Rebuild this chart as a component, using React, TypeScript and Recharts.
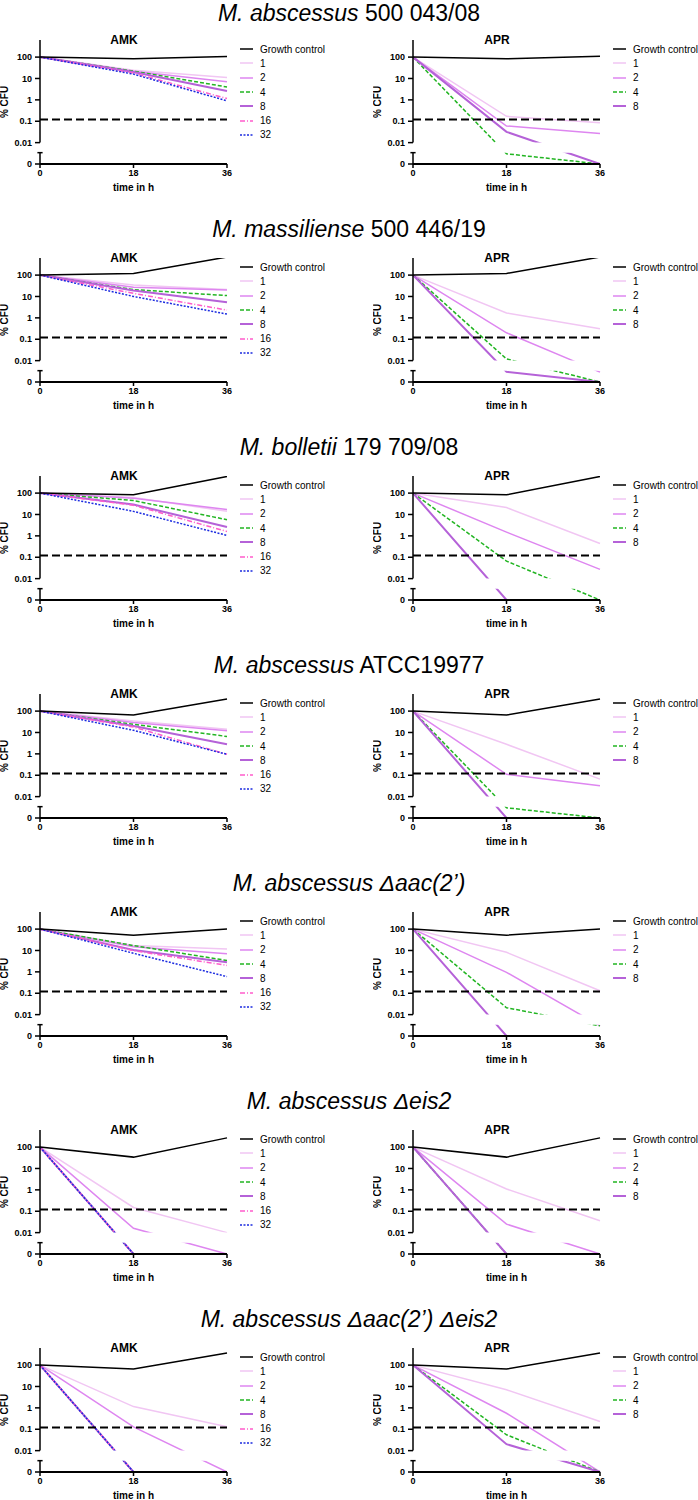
import React from 'react'
import {
  LineChart,
  Line,
  XAxis,
  YAxis,
  ReferenceLine,
  ReferenceArea,
  Legend,
  Customized,
} from 'recharts'

const times = [0, 18, 36]
const amkLabels = ['Growth control', '1', '2', '4', '8', '16', '32']
const aprLabels = ['Growth control', '1', '2', '4', '8']
const yTicks = [-3, -2, -1, 0, 1, 2]
const yTickLabels = ['0', '0.01', '0.1', '1', '10', '100']
const detectionLimit = 0.12

// % CFU at 0, 18 and 36 h, one array per concentration (0 = nothing recovered)
const abs500AMK = [[100, 83, 107], [100, 24, 11], [100, 22, 7], [100, 22, 4], [100, 20, 2.6], [100, 18, 1.15], [100, 16, 0.9]]
const abs500APR = [[100, 83, 110], [100, 0.17, 0.085], [100, 0.06, 0.027], [100, 0.003, 0], [100, 0.032, 0]]

const massAMK = [[100, 120, 700], [100, 34, 21], [100, 27, 20], [100, 21, 11], [100, 19, 5.4], [100, 14, 2.3], [100, 10, 1.5]]
const massAPR = [[100, 120, 700], [100, 1.7, 0.31], [100, 0.2, 0.0029], [100, 0.012, 0], [100, 0.003, 0]]

const bollAMK = [[100, 83, 600], [100, 63, 14], [100, 58, 17], [100, 45, 5.7], [100, 29, 2.6], [100, 27, 1.6], [100, 14, 1.05]]
const bollAPR = [[100, 83, 600], [100, 21, 0.44], [100, 1.5, 0.027], [100, 0.066, 0], [100, 0, 0]]

const atccAMK = [[100, 65, 370], [100, 34, 14], [100, 29, 12], [100, 24, 6.5], [100, 20, 2.8], [100, 18, 0.95], [100, 12.6, 0.95]]
const atccAPR = [[100, 65, 370], [100, 2.8, 0.066], [100, 0.11, 0.032], [100, 0.003, 0], [100, 0, 0]]

const aacAMK = [[100, 52, 100], [100, 17, 11.8], [100, 15, 7], [100, 17, 3.4], [100, 10.5, 2.8], [100, 9.8, 2], [100, 7.4, 0.6]]
const aacAPR = [[100, 52, 100], [100, 8.2, 0.13], [100, 0.95, 0.003], [100, 0.021, 0.003], [100, 0, 0]]

const eisAMK = [[100, 34, 270], [100, 0.15, 0.01], [100, 0.016, 0], [100, 0, 0], [100, 0, 0], [100, 0, 0], [100, 0, 0]]
const eisAPR = [[100, 34, 270], [100, 1.1, 0.036], [100, 0.025, 0], [100, 0, 0], [100, 0, 0]]

const aacEisAMK = [[100, 65, 370], [100, 1.15, 0.13], [100, 0.13, 0], [100, 0, 0], [100, 0, 0], [100, 0, 0], [100, 0, 0]]
const aacEisAPR = [[100, 65, 370], [100, 7, 0.23], [100, 0.56, 0], [100, 0.055, 0], [100, 0.02, 0]]

const strains = [
  { italic: 'M. abscessus', plain: ' 500 043/08', amk: abs500AMK, apr: abs500APR },
  { italic: 'M. massiliense', plain: ' 500 446/19', amk: massAMK, apr: massAPR },
  { italic: 'M. bolletii', plain: ' 179 709/08', amk: bollAMK, apr: bollAPR },
  { italic: 'M. abscessus', plain: ' ATCC19977', amk: atccAMK, apr: atccAPR },
  { italic: 'M. abscessus \u0394aac(2\u2019)', plain: '', amk: aacAMK, apr: aacAPR },
  { italic: 'M. abscessus \u0394eis2', plain: '', amk: eisAMK, apr: eisAPR },
  { italic: 'M. abscessus \u0394aac(2\u2019) \u0394eis2', plain: '', amk: aacEisAMK, apr: aacEisAPR },
]

const seriesStyle = [
  { stroke: '#000000', width: 1.5, dash: undefined as string | undefined },
  { stroke: '#F1C6F3', width: 1.5, dash: undefined },
  { stroke: '#DE86F0', width: 1.5, dash: undefined },
  { stroke: '#22B522', width: 1.5, dash: '4 2' },
  { stroke: '#B562D8', width: 2, dash: undefined },
  { stroke: '#FF5CCB', width: 1.5, dash: '5 2 1 2' },
  { stroke: '#1B2BE0', width: 1.5, dash: '2 1.5' },
]

// log scale with the "0" segment one decade below 0.01
const toY = (v: number) => Math.log10(Math.max(v, 0.001))
const GAP_TOP = -2
const GAP_BOTTOM = -2.47

function LegendBox({ labels }: { labels: string[] }) {
  return (
    <div style={{ width: 110 }}>
      {labels.map((l, k) => (
        <div
          key={l}
          style={{ height: 14.3, display: 'flex', alignItems: 'center', fontSize: 10, color: '#000', whiteSpace: 'nowrap' }}
        >
          <svg width={20} height={6} style={{ flex: 'none' }}>
            <line
              x1={0}
              x2={13}
              y1={3}
              y2={3}
              stroke={seriesStyle[k].stroke}
              strokeWidth={seriesStyle[k].width}
              strokeDasharray={seriesStyle[k].dash}
            />
          </svg>
          <span>{l}</span>
        </div>
      ))}
    </div>
  )
}

function Panel({ title, values, labels }: { title: string; values: number[][]; labels: string[] }) {
  const data = times.map((t, i) => {
    const row: Record<string, number> = { t }
    values.forEach((s, k) => {
      row['s' + k] = toY(s[i])
    })
    return row
  })
  const order = labels.map((_, k) => k).slice(1).concat([0])

  return (
    <LineChart width={348} height={200} data={data} margin={{ top: 40, right: 11, bottom: 0, left: 0 }}>
      <XAxis
        dataKey="t"
        type="number"
        domain={[0, 36]}
        ticks={times}
        height={36}
        axisLine={{ stroke: '#000', strokeWidth: 2 }}
        tickLine={{ stroke: '#000', strokeWidth: 1.5 }}
        tickSize={4}
        tickMargin={2}
        tick={{ fill: '#000', fontSize: 9, fontWeight: 'bold' }}
        label={{ value: 'time in h', position: 'insideBottom', offset: 9, fill: '#000', fontSize: 10, fontWeight: 'bold' }}
      />
      <YAxis
        type="number"
        domain={[-3, 2.8]}
        allowDataOverflow
        ticks={yTicks}
        interval={0}
        tickFormatter={(v: number) => yTickLabels[yTicks.indexOf(v)] ?? ''}
        width={40}
        axisLine={false}
        tickLine={{ stroke: '#000', strokeWidth: 1.5 }}
        tickSize={5}
        tickMargin={3}
        tick={{ fill: '#000', fontSize: 9, fontWeight: 'bold' }}
      />
      {order.map((k) => (
        <Line
          key={k}
          dataKey={'s' + k}
          name={labels[k]}
          type="linear"
          stroke={seriesStyle[k].stroke}
          strokeWidth={seriesStyle[k].width}
          strokeDasharray={seriesStyle[k].dash}
          dot={false}
          activeDot={false}
          isAnimationActive={false}
        />
      ))}
      <ReferenceArea
        x1={0}
        x2={36}
        y1={GAP_BOTTOM}
        y2={GAP_TOP}
        fill="#fff"
        fillOpacity={1}
        stroke="none"
        zIndex={450}
      />
      <ReferenceLine y={toY(detectionLimit)} stroke="#000" strokeWidth={2} strokeDasharray="8 4" zIndex={460} />
      <ReferenceLine segment={[{ x: 0, y: GAP_TOP }, { x: 0, y: 2.8 }]} stroke="#000" strokeWidth={1.5} zIndex={470} />
      <ReferenceLine segment={[{ x: 0, y: -3 }, { x: 0, y: GAP_BOTTOM }]} stroke="#000" strokeWidth={1.5} zIndex={470} />
      <ReferenceLine
        segment={[{ x: -0.5, y: GAP_BOTTOM }, { x: 0.5, y: GAP_BOTTOM }]}
        ifOverflow="visible"
        stroke="#000"
        strokeWidth={1.5}
        zIndex={470}
      />
      <ReferenceLine y={-3} stroke="#000" strokeWidth={2} zIndex={470} />
      <Legend
        layout="vertical"
        align="right"
        verticalAlign="top"
        wrapperStyle={{ left: 240, top: 42, right: 'auto', width: 110 }}
        content={() => <LegendBox labels={labels} />}
      />
      <Customized
        component={() => (
          <g>
            <text x={124} y={44} textAnchor="middle" fontSize={12} fontWeight="bold" fill="#000">
              {title}
            </text>
            <text transform="rotate(-90)" x={-102} y={8} textAnchor="middle" fontSize={10} fontWeight="bold" fill="#000">
              % CFU
            </text>
          </g>
        )}
      />
    </LineChart>
  )
}

export default function App() {
  return (
    <div
      style={{
        position: 'absolute',
        left: 0,
        top: 0,
        width: 698,
        height: 1500,
        overflow: 'hidden',
        background: '#fff',
        fontFamily: '"Liberation Sans", Arial, sans-serif',
      }}
    >
      {strains.map((s, i) => (
        <div key={i} style={{ position: 'absolute', left: 0, top: i * 218, width: 698, height: 218 }}>
          <div
            style={{
              position: 'absolute',
              left: 0,
              top: i === 0 ? 0 : -2,
              width: 698,
              textAlign: 'center',
              fontSize: 23,
              lineHeight: '26px',
              color: '#000',
              whiteSpace: 'nowrap',
            }}
          >
            <i>{s.italic}</i>
            {s.plain}
          </div>
          <div style={{ position: 'absolute', left: 0, top: 0 }}>
            <Panel title="AMK" values={s.amk} labels={amkLabels} />
          </div>
          <div style={{ position: 'absolute', left: 373, top: 0 }}>
            <Panel title="APR" values={s.apr} labels={aprLabels} />
          </div>
        </div>
      ))}
    </div>
  )
}
